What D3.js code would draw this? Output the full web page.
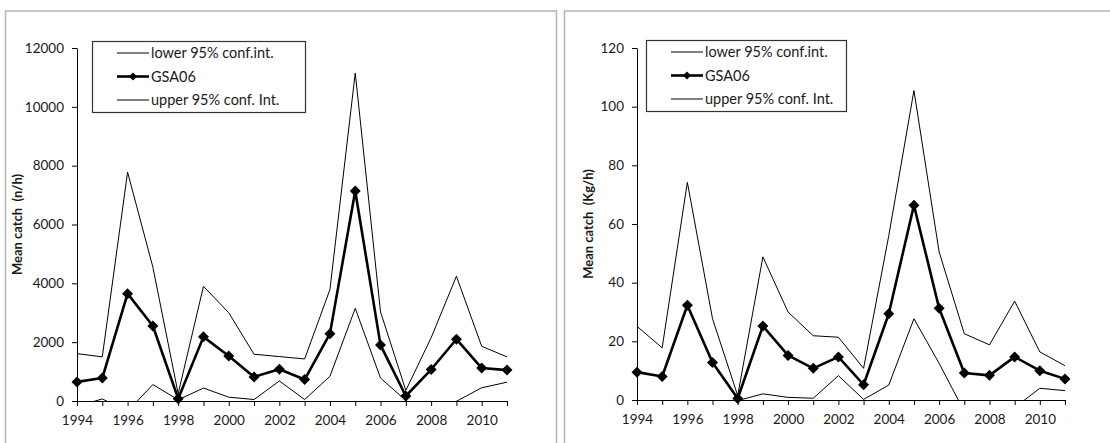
<!DOCTYPE html>
<html>
<head>
<meta charset="utf-8">
<script src="https://cdn.jsdelivr.net/npm/d3@7"></script>
<style>
  body { margin: 0; background: #fff; }
  text { font-family: Lato, "Liberation Sans", Arial, sans-serif; fill: #1a1a1a; }
</style>
</head>
<body>
<div id="chart"></div>
<script>
// data
var years = [1994, 1995, 1996, 1997, 1998, 1999, 2000, 2001, 2002, 2003,
  2004, 2005, 2006, 2007, 2008, 2009, 2010, 2011];

// left panel: abundance (n/h)
var countMean = [650, 780, 3650, 2550, 80, 2180, 1530, 820, 1080, 730,
  2290, 7140, 1900, 170, 1070, 2100, 1120, 1050];
var countLower = [-180, 70, -350, 560, 40, 440, 130, 50, 680, 50,
  840, 3150, 780, 20, -500, -10, 450, 640];
var countUpper = [1610, 1500, 7780, 4550, 250, 3900, 3000, 1590, 1510, 1430,
  3790, 11150, 3030, 360, 2150, 4240, 1860, 1500];
var countTicks = [0, 2000, 4000, 6000, 8000, 10000, 12000];

// right panel: biomass (Kg/h)
var weightMean = [9.5, 8.0, 32.3, 12.8, 0.5, 25.2, 15.2, 10.8, 14.7, 5.2,
  29.4, 66.4, 31.3, 9.2, 8.4, 14.7, 10.0, 7.2];
var weightLower = [-6, -2, -9, -4, -0.2, 2.1, 0.9, 0.6, 8.3, 0.2,
  5.1, 27.7, 12.5, -3.9, -2, -2.6, 4.0, 3.2];
var weightUpper = [25.1, 17.8, 74.2, 27.7, 1.5, 48.8, 30.0, 21.9, 21.4, 10.8,
  56, 105.5, 50.5, 22.6, 18.8, 33.7, 16.4, 11.7];
var weightTicks = [0, 20, 40, 60, 80, 100, 120];

var legendLabels = ["lower 95% conf.int.", "GSA06", "upper 95% conf. Int."];

var svg = d3
  .select("#chart")
  .append("svg")
  .attr("width", 1110)
  .attr("height", 443);

// panel frames
svg.append("path")
  .attr("d", "M5.5,443 V11 H556.5 V443")
  .attr("fill", "none")
  .attr("stroke", "#b4b4b4")
  .attr("stroke-width", 1.5);
svg.append("path")
  .attr("d", "M564.5,443 V11 H1110")
  .attr("fill", "none")
  .attr("stroke", "#b4b4b4")
  .attr("stroke-width", 1.5);

function diamond(r) {
  return "M0," + -r + "L" + r + ",0L0," + r + "L" + -r + ",0Z";
}

function drawPanel(p) {
  var x = d3.scaleLinear().domain([1994, 2011]).range([p.left, p.right]);
  var y = d3
    .scaleLinear()
    .domain([0, d3.max(p.ticks)])
    .range([p.bottom, p.top]);

  var g = svg.append("g");

  // clip lines to the plot area (negative lower limits vanish under the axis)
  g.append("clipPath")
    .attr("id", p.id)
    .append("rect")
    .attr("x", p.left)
    .attr("y", p.top - 5)
    .attr("width", p.right - p.left + 10)
    .attr("height", p.bottom - p.top + 6);

  var line = d3
    .line()
    .x(function (d, i) { return x(years[i]); })
    .y(function (d) { return y(d); });

  var lines = g.append("g").attr("clip-path", "url(#" + p.id + ")");

  [p.lower, p.upper].forEach(function (s) {
    lines.append("path")
      .attr("d", line(s))
      .attr("fill", "none")
      .attr("stroke", "#000")
      .attr("stroke-width", 1);
  });

  lines.append("path")
    .attr("d", line(p.mean))
    .attr("fill", "none")
    .attr("stroke", "#000")
    .attr("stroke-width", 2.6)
    .attr("stroke-linejoin", "round");

  g.selectAll(".pt")
    .data(p.mean)
    .enter()
    .append("path")
    .attr("d", diamond(5.5))
    .attr("transform", function (d, i) {
      return "translate(" + x(years[i]) + "," + y(d) + ")";
    })
    .attr("fill", "#000");

  // axes
  var yAxis = g.append("g")
    .attr("transform", "translate(" + p.left + ",0)")
    .call(d3.axisLeft(y).tickValues(p.ticks).tickSize(5).tickSizeOuter(0).tickPadding(8).tickFormat(d3.format("d")));
  var xAxis = g.append("g")
    .attr("transform", "translate(0," + p.bottom + ")")
    .call(
      d3.axisBottom(x)
        .tickValues(years)
        .tickSize(5)
        .tickSizeOuter(0)
        .tickPadding(9)
        .tickFormat(function (d) { return d % 2 === 0 ? d : ""; })
    );
  [yAxis, xAxis].forEach(function (a) {
    a.select(".domain").attr("stroke", "#000");
    a.selectAll(".tick line").attr("stroke", "#000");
    a.selectAll("text")
      .style("font-family", "Lato, 'Liberation Sans', Arial, sans-serif")
      .style("font-size", "13.5px")
      .attr("fill", "#1a1a1a");
  });

  // y-axis label
  g.append("text")
    .attr("transform", "translate(" + p.labelX + "," + (p.top + p.bottom) / 2 + ") rotate(-90)")
    .attr("text-anchor", "middle")
    .style("font-size", "13px")
    .style("font-weight", "bold")
    .style("white-space", "pre")
    .text(p.yLabel);

  // legend
  var lg = g.append("g").attr("transform", "translate(" + p.legX + "," + p.legY + ")");
  lg.append("rect")
    .attr("x", 0.5)
    .attr("y", 0.5)
    .attr("width", p.legW)
    .attr("height", 71)
    .attr("fill", "#fff")
    .attr("stroke", "#333")
    .attr("stroke-width", 1.2);

  var item = lg
    .selectAll(".legend")
    .data(legendLabels)
    .enter()
    .append("g")
    .attr("transform", function (d, i) { return "translate(0," + (12 + i * 23.5) + ")"; });

  item.append("line")
    .attr("x1", 25)
    .attr("x2", 57)
    .attr("stroke", "#000")
    .attr("stroke-width", function (d, i) { return i === 1 ? 2.6 : 1; });

  item.filter(function (d, i) { return i === 1; })
    .append("path")
    .attr("d", diamond(4))
    .attr("transform", "translate(41,0)")
    .attr("fill", "#000");

  item.append("text")
    .attr("x", 59)
    .attr("dy", "0.35em")
    .style("font-size", "14.5px")
    .text(function (d) { return d; });
}

drawPanel({
  id: "clipA",
  left: 77, right: 507, top: 48, bottom: 401,
  ticks: countTicks,
  mean: countMean, lower: countLower, upper: countUpper,
  yLabel: "Mean catch  (n/h)",
  labelX: 22,
  legX: 92, legY: 41, legW: 213
});

drawPanel({
  id: "clipB",
  left: 637, right: 1065, top: 48, bottom: 400,
  ticks: weightTicks,
  mean: weightMean, lower: weightLower, upper: weightUpper,
  yLabel: "Mean catch  (Kg/h)",
  labelX: 593,
  legX: 646, legY: 40, legW: 200
});
</script>
</body>
</html>
